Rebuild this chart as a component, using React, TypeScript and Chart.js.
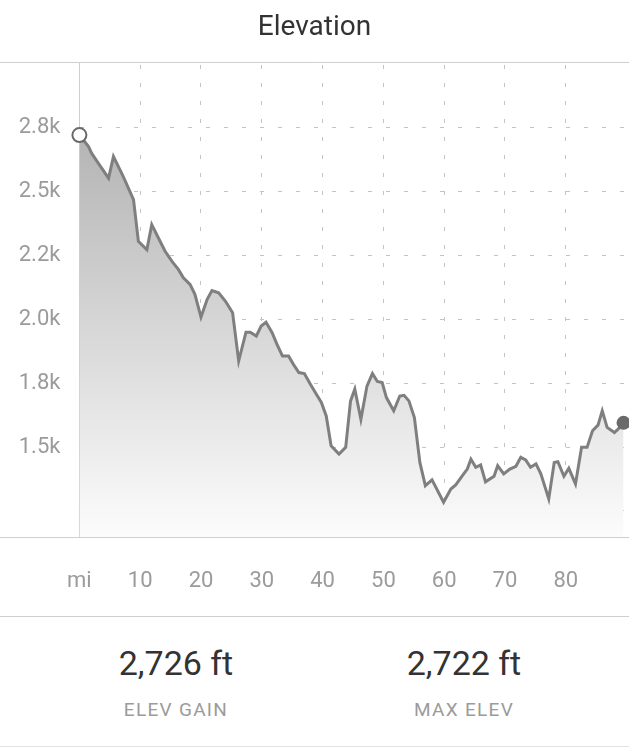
import React, { useEffect, useRef } from "react";
import { Chart, registerables } from "chart.js";

Chart.register(...registerables);

// distance along route (mi)
const distances = [
  0, 1.5, 2.0, 3.1, 4.8, 5.6, 7.2, 8.9, 9.7, 11.1, 11.9, 13.0, 14.1, 15.2, 16.3, 17.1, 18.2, 19.0,
  20.0, 21.0, 21.8, 22.9, 24.0, 25.2, 26.2, 27.4, 28.1, 29.1, 29.9, 30.7, 31.7, 32.5, 33.4, 34.4,
  35.2, 36.1, 37.0, 37.9, 38.8, 39.8, 40.6, 41.4, 42.7, 43.8, 44.6, 45.3, 46.3, 47.3, 48.2, 49.0,
  49.8, 50.5, 51.7, 52.7, 53.4, 54.2, 55.1, 56.0, 56.9, 58.0, 59.9, 61.1, 61.9, 63.0, 63.8, 64.4,
  65.2, 66.0, 66.8, 68.2, 68.8, 69.8, 70.8, 71.8, 72.6, 73.4, 74.2, 75.1, 75.9, 77.2, 78.1, 78.7,
  79.7, 80.5, 81.6, 82.6, 83.5, 84.4, 85.3, 86.0, 86.8, 88.0, 88.6, 89.5,
];

// elevation (ft)
const elevations = [
  2722, 2677, 2651, 2612, 2553, 2638, 2560, 2469, 2306, 2273, 2371, 2319, 2267, 2228, 2195, 2163, 2137, 2098,
  2009, 2078, 2113, 2104, 2072, 2026, 1837, 1950, 1950, 1935, 1974, 1989, 1948, 1902, 1857, 1857,
  1824, 1792, 1788, 1750, 1714, 1675, 1622, 1505, 1473, 1499, 1681, 1727, 1609, 1739, 1788, 1757,
  1753, 1694, 1642, 1700, 1703, 1681, 1616, 1440, 1349, 1372, 1284, 1336, 1352, 1388, 1414, 1453,
  1421, 1430, 1364, 1386, 1427, 1395, 1414, 1425, 1460, 1450, 1421, 1434, 1395, 1297, 1440, 1443,
  1386, 1417, 1356, 1499, 1499, 1564, 1586, 1642, 1577, 1557, 1570, 1595,
];

const xTickValues = [0, 10, 20, 30, 40, 50, 60, 70, 80];
const xTickLabels = ["mi", "10", "20", "30", "40", "50", "60", "70", "80"];
const yTickValues = [1250, 1500, 1750, 2000, 2250, 2500, 2750];
const yTickLabels = ["", "1.5k", "1.8k", "2.0k", "2.2k", "2.5k", "2.8k"];

const statValues = ["2,726 ft", "2,722 ft"];
const statLabels = ["ELEV GAIN", "MAX ELEV"];

const FONT = "Roboto, 'Helvetica Neue', Arial, sans-serif";
const LINE_GRAY = "#cfcfcf";
const CANVAS_W = 629;
const CANVAS_H = 616;

export default function App() {
  const canvasRef = useRef<HTMLCanvasElement | null>(null);

  useEffect(() => {
    if (!canvasRef.current) return;
    const n = distances.length;
    const frameLines = {
      id: "frameLines",
      afterDraw(chart: any) {
        const { ctx, chartArea, width } = chart;
        ctx.save();
        ctx.strokeStyle = LINE_GRAY;
        ctx.lineWidth = 1;
        ctx.beginPath();
        ctx.moveTo(0, Math.round(chartArea.top) + 0.5);
        ctx.lineTo(width, Math.round(chartArea.top) + 0.5);
        ctx.moveTo(0, Math.round(chartArea.bottom) + 0.5);
        ctx.lineTo(width, Math.round(chartArea.bottom) + 0.5);
        ctx.stroke();
        ctx.restore();
      },
    };
    const chart = new Chart(canvasRef.current, {
      type: "line",
      data: {
        datasets: [
          {
            data: distances.map((d, i) => ({ x: d, y: elevations[i] })),
            borderColor: "#7f7f7f",
            borderWidth: 3,
            tension: 0,
            fill: "start",
            clip: 10,
            backgroundColor: (ctx: any) => {
              const c = ctx.chart;
              const area = c.chartArea;
              if (!area) return "rgba(0,0,0,0.2)";
              const g = c.ctx.createLinearGradient(0, area.top + 60, 0, area.bottom);
              g.addColorStop(0, "rgb(178,178,178)");
              g.addColorStop(1, "rgb(252,252,252)");
              return g;
            },
            pointRadius: distances.map((_, i) => (i === 0 || i === n - 1 ? 7 : 0)),
            pointHoverRadius: 0,
            pointBackgroundColor: distances.map((_, i) => (i === 0 ? "#ffffff" : "#6a6a6a")),
            pointBorderColor: "#6a6a6a",
            pointBorderWidth: distances.map((_, i) => (i === 0 ? 2 : 0)),
          },
        ],
      },
      options: {
        animation: false,
        responsive: false,
        maintainAspectRatio: false,
        devicePixelRatio: 1,
        layout: { autoPadding: false, padding: { top: 62, bottom: 0, left: 0, right: 0 } },
        plugins: { legend: { display: false }, tooltip: { enabled: false }, title: { display: false } },
        events: [],
        scales: {
          x: {
            type: "linear",
            min: 0,
            max: 90.4,
            afterBuildTicks: (scale: any) => {
              scale.ticks = xTickValues.map((v) => ({ value: v }));
            },
            afterFit: (scale: any) => {
              scale.height = 79;
            },
            ticks: {
              callback: (v: any) => {
                const i = xTickValues.indexOf(Number(v));
                return i >= 0 ? xTickLabels[i] : "";
              },
              color: "#9b9b9b",
              font: { family: FONT, size: 22 },
              padding: 31,
              maxRotation: 0,
              autoSkip: false,
            },
            grid: {
              color: (c: any) => (c.tick && c.tick.value === 0 ? "rgba(0,0,0,0)" : "#c4c4c4"),
              lineWidth: 1,
              drawTicks: false,
            },
            border: { display: false, dash: [4, 14], dashOffset: -3 },
          },
          y: {
            type: "linear",
            min: 1148,
            max: 3008,
            afterBuildTicks: (scale: any) => {
              scale.ticks = yTickValues.map((v) => ({ value: v }));
            },
            afterFit: (scale: any) => {
              scale.width = 79.4;
            },
            ticks: {
              callback: (v: any) => {
                const i = yTickValues.indexOf(Number(v));
                return i >= 0 ? yTickLabels[i] : "";
              },
              color: "#9b9b9b",
              font: { family: FONT, size: 22 },
              padding: 19,
              autoSkip: false,
            },
            grid: { color: "#c4c4c4", lineWidth: 1, drawTicks: false },
            border: { display: true, color: LINE_GRAY, width: 1, dash: [4, 14], dashOffset: 0 },
          },
        },
      },
      plugins: [frameLines],
    });
    return () => chart.destroy();
  }, []);

  const statCenters = [176, 464];

  return (
    <div
      style={{
        position: "fixed",
        left: 0,
        top: 0,
        width: 629,
        height: 748,
        background: "#ffffff",
        fontFamily: FONT,
        overflow: "hidden",
      }}
    >
      <canvas
        ref={canvasRef}
        width={CANVAS_W}
        height={CANVAS_H}
        style={{ position: "absolute", left: 0, top: 0, width: CANVAS_W, height: CANVAS_H, display: "block" }}
      />
      <div
        style={{
          position: "absolute",
          left: 0,
          top: 12,
          width: 629,
          textAlign: "center",
          fontSize: 28,
          lineHeight: "28px",
          color: "#333333",
        }}
      >
        Elevation
      </div>
      <div style={{ position: "absolute", left: 0, top: 616, width: 629, height: 1, background: LINE_GRAY }} />
      {statValues.map((v, i) => (
        <React.Fragment key={v + i}>
          <div
            style={{
              position: "absolute",
              left: statCenters[i] - 150,
              width: 300,
              top: 646,
              textAlign: "center",
              fontSize: 34,
              lineHeight: "34px",
              color: "#333333",
            }}
          >
            {v}
          </div>
          <div
            style={{
              position: "absolute",
              left: statCenters[i] - 150,
              width: 300,
              top: 700,
              textAlign: "center",
              fontSize: 19,
              lineHeight: "19px",
              letterSpacing: 1.3,
              color: "#9b9b9b",
            }}
          >
            {statLabels[i]}
          </div>
        </React.Fragment>
      ))}
      <div style={{ position: "absolute", left: 0, top: 746, width: 629, height: 1, background: "#e2e2e2" }} />
    </div>
  );
}
